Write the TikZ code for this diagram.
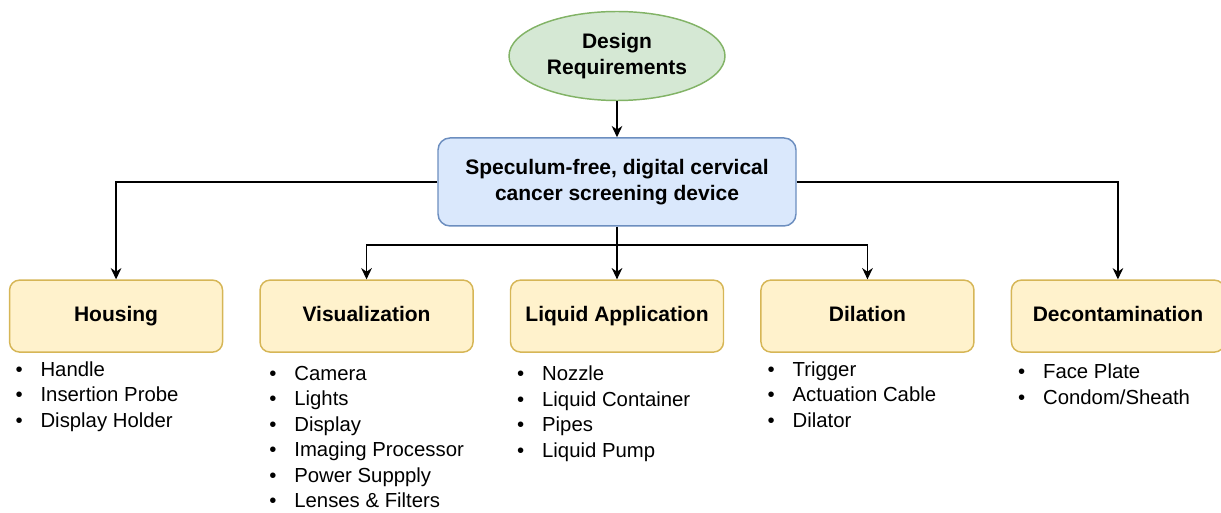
\documentclass[tikz,border=0pt]{standalone}
\usepackage{fontspec}
\setmainfont{Liberation Sans}
\usepackage{tikz}
\usetikzlibrary{positioning,arrows.meta,shapes.geometric,calc}
\usepackage{xcolor}
\definecolor{reqfill}{HTML}{D5E8D4}
\definecolor{reqdraw}{HTML}{82B366}
\definecolor{devfill}{HTML}{DAE8FC}
\definecolor{devdraw}{HTML}{6C8EBF}
\definecolor{partfill}{HTML}{FFF2CC}
\definecolor{partdraw}{HTML}{D6B656}
\newcommand{\bul}{\makebox[18.75pt][l]{\textbullet}}

\begin{document}
\begin{tikzpicture}[x=0.75pt, y=-0.75pt, >={Stealth[length=8.5pt,width=8pt]}, line width=1.1pt,
  req/.style={draw=reqdraw, fill=reqfill, ellipse, minimum width=162pt, minimum height=66.75pt, inner sep=0pt, align=center, font=\fontsize{15.75}{19.5}\selectfont\bfseries},
  dev/.style={draw=devdraw, fill=devfill, rectangle, rounded corners=9pt, minimum width=268.5pt, minimum height=66pt, align=center, font=\fontsize{15.75}{19.5}\selectfont\bfseries},
  part/.style={draw=partdraw, fill=partfill, rectangle, rounded corners=7.5pt, minimum width=159.75pt, minimum height=54pt, text height=11.5pt, text depth=3.5pt, font=\fontsize{15.75}{19.5}\selectfont\bfseries},
  items/.style={anchor=north west, inner sep=0pt, align=left, font=\fontsize{15.25}{19.1}\selectfont}]
  \useasboundingbox (0,0) rectangle (1221,513);

  \node[req] (req) at (617,56) {Design\\Requirements};
  \node[dev] (dev) [below=27pt of req] {Speculum-free, digital cervical\\cancer screening device};

  % the five sub-systems
  \node[part] (liq) [below=39.5pt of dev] {Liquid Application};
  \node[part] (vis) [left=27pt of liq] {Visualization};
  \node[part] (hous) [left=27pt of vis] {Housing};
  \node[part] (dil) [right=27pt of liq] {Dilation};
  \node[part] (decon) [right=27pt of dil] {Decontamination};

  \draw[->] (req) -- (dev);
  \draw[->] (dev.west) -| (hous.north);
  \draw[->] (dev.east) -| (decon.north);
  \draw[->] (dev) -- (liq);
  \coordinate (fork) at ($(dev.south)!0.35!(liq.north)$);
  \draw[->] (fork) -| (vis.north);
  \draw[->] (fork) -| (dil.north);

  % component lists
  \node (housitems) [below=6pt of hous.south west, items, xshift=4.5pt] {\bul Handle\\\bul Insertion Probe\\\bul Display Holder};
  \node (visitems) [below=9.5pt of vis.south west, items, xshift=7pt] {\bul Camera\\\bul Lights\\\bul Display\\\bul Imaging Processor\\\bul Power Suppply\\\bul Lenses \& Filters};
  \node (liqitems) [below=9.5pt of liq.south west, items, xshift=5pt] {\bul Nozzle\\\bul Liquid Container\\\bul Pipes\\\bul Liquid Pump};
  \node (dilitems) [below=6pt of dil.south west, items, xshift=5pt] {\bul Trigger\\\bul Actuation Cable\\\bul Dilator};
  \node (deconitems) [below=8pt of decon.south west, items, xshift=5pt] {\bul Face Plate\\\bul Condom/Sheath};
\end{tikzpicture}
\end{document}
